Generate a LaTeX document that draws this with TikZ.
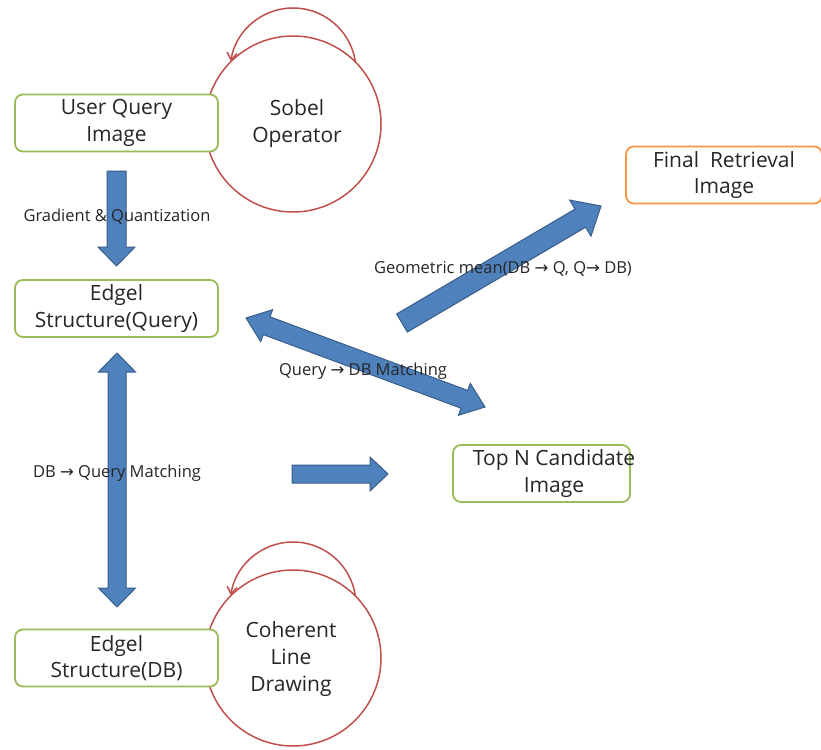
\documentclass[tikz,border=0pt]{standalone}
\usepackage{fontspec}
\setmainfont{Open Sans}
\newfontfamily\arrfont{DejaVu Sans}
\usetikzlibrary{calc,arrows.meta}
\definecolor{boxgreen}{HTML}{9BBB59}
\definecolor{boxorange}{HTML}{F79646}
\definecolor{circred}{HTML}{C0504D}
\definecolor{arrfill}{HTML}{4F81BD}
\definecolor{arrline}{HTML}{385D8A}
\definecolor{txt}{HTML}{262626}
\newcommand\rarr{{\arrfont →}}
\tikzset{
  gbox/.style={draw=boxgreen, line width=1.8pt, fill=white, rounded corners=8pt,
    minimum width=203pt, minimum height=57pt, align=center, text=txt,
    font=\fontsize{21}{26.5}\selectfont, inner sep=0pt},
  obox/.style={gbox, draw=boxorange},
  bigtext/.style={align=center, text=txt, font=\fontsize{21}{27}\selectfont, inner sep=0pt},
  lbl/.style={text=txt, font=\fontsize{16.5}{19}\selectfont, inner sep=0pt},
  circ/.style={draw=circred, line width=1.5pt},
  loop/.style={draw=circred, line width=1.5pt, -{Straight Barb[length=7pt,width=10pt]}},
  blockarrow/.style={fill=arrfill, draw=arrline, line width=1pt, line join=miter},
}
\newcommand\barrow[5]{%
  \coordinate (hb) at ($(#2)!#5!(#1)$);
  \filldraw[blockarrow] ($(#1)!#3!90:(#2)$) -- ($(hb)!#3!90:(#2)$) -- ($(hb)!#4!90:(#2)$) -- (#2)
    -- ($(hb)!#4!-90:(#2)$) -- ($(hb)!#3!-90:(#2)$) -- ($(#1)!#3!-90:(#2)$) -- cycle;
}
\newcommand\dbarrow[5]{%
  \coordinate (hbA) at ($(#2)!#5!(#1)$);
  \coordinate (hbB) at ($(#1)!#5!(#2)$);
  \filldraw[blockarrow] (#1) -- ($(hbB)!#4!90:(#2)$) -- ($(hbB)!#3!90:(#2)$) -- ($(hbA)!#3!90:(#2)$)
    -- ($(hbA)!#4!90:(#2)$) -- (#2) -- ($(hbA)!#4!-90:(#2)$) -- ($(hbA)!#3!-90:(#2)$)
    -- ($(hbB)!#3!-90:(#2)$) -- ($(hbB)!#4!-90:(#2)$) -- cycle;
}
\begin{document}
\begin{tikzpicture}[x=1pt,y=-1pt]
\useasboundingbox[fill=white] (0,0) rectangle (821,749);

% circles with self loops
\coordinate (sobc) at (293,124);
\coordinate (clc) at (293,658);
\draw[circ] (sobc) circle[radius=88];
\draw[circ] (clc) circle[radius=88];
\draw[loop] ($(sobc)+(0,-53)$) ++(-8:63) arc[start angle=-8, end angle=-171, radius=63];
\draw[loop] ($(clc)+(0,-53)$) ++(-8:63) arc[start angle=-8, end angle=-171, radius=63];
\node[bigtext] (sob) at (297,124) {Sobel\\Operator};
\node[bigtext] (cl) at (291,659) {Coherent\\Line\\Drawing};

% boxes
\node[gbox] (uq) at (116.5,123) {User Query\\Image};
\node[gbox] (eq) at (116.5,308.5) {Edgel\\Structure(Query)};
\node[gbox] (ed) at (116.5,658) {Edgel\\Structure(DB)};
\node[gbox, minimum width=177pt] (tn) at (541.5,473.5) {};
\node[bigtext] (tnt) at (554,473.5) {Top N Candidate\\Image};
\node[obox, minimum width=196pt] (fr) at (724,175) {Final\ \ Retrieval\\Image};

% block arrows
\coordinate (g1) at (116.5,171);
\coordinate (g2) at (116.5,266);
\barrow{g1}{g2}{9.5pt}{18.5pt}{19pt}
\coordinate (v1) at (117,353);
\coordinate (v2) at (117,607);
\dbarrow{v1}{v2}{9pt}{18.5pt}{19pt}
\coordinate (h1) at (292,474);
\coordinate (h2) at (388,474);
\barrow{h1}{h2}{9pt}{17pt}{18pt}
\coordinate (d1) at (246,318);
\coordinate (d2) at (485,407);
\dbarrow{d1}{d2}{9.5pt}{17pt}{22pt}
\coordinate (m1) at (402,323);
\coordinate (m2) at (601,206);
\barrow{m1}{m2}{10.5pt}{21pt}{24pt}

% labels
\node[lbl] (lg) at (117,217) {Gradient \& Quantization};
\node[lbl] (lm) at (503,269) {Geometric mean(DB \rarr{} Q, Q\rarr{} DB)};
\node[lbl] (lq) at (363,371) {Query \rarr{} DB Matching};
\node[lbl] (ld) at (117,473) {DB \rarr{} Query Matching};
\end{tikzpicture}
\end{document}
